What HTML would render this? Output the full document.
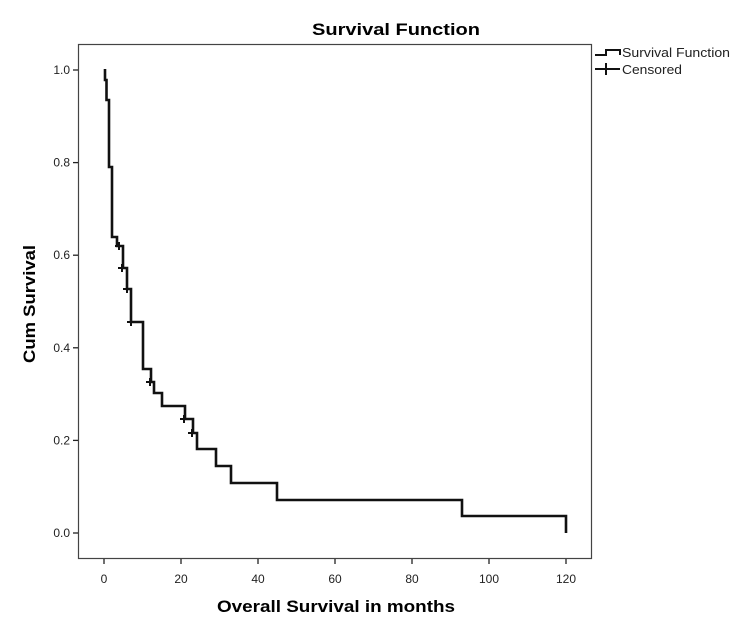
<!DOCTYPE html>
<html><head><meta charset="utf-8"><style>
html,body{margin:0;padding:0;background:#fff;}
svg{display:block;font-family:"Liberation Sans",sans-serif;}
</style></head><body>
<svg width="741" height="632" viewBox="0 0 741 632" xmlns="http://www.w3.org/2000/svg">
<rect x="0" y="0" width="741" height="632" fill="#fff"/>
<text x="396" y="35" font-size="17" font-weight="bold" text-anchor="middle" textLength="168" lengthAdjust="spacingAndGlyphs">Survival Function</text>
<rect x="78.5" y="44.5" width="513" height="514" fill="none" stroke="#444" stroke-width="1.2"/>
<g stroke="#222" stroke-width="1.3">
<line x1="73" y1="533" x2="78" y2="533"/><line x1="73" y1="440.4" x2="78" y2="440.4"/>
<line x1="73" y1="347.8" x2="78" y2="347.8"/><line x1="73" y1="255.2" x2="78" y2="255.2"/>
<line x1="73" y1="162.6" x2="78" y2="162.6"/><line x1="73" y1="70" x2="78" y2="70"/>
<line x1="104" y1="559" x2="104" y2="564"/><line x1="181" y1="559" x2="181" y2="564"/>
<line x1="258" y1="559" x2="258" y2="564"/><line x1="335" y1="559" x2="335" y2="564"/>
<line x1="412" y1="559" x2="412" y2="564"/><line x1="489" y1="559" x2="489" y2="564"/>
<line x1="566" y1="559" x2="566" y2="564"/>
</g>
<g font-size="12" fill="#222" text-anchor="end">
<text x="70" y="537">0.0</text><text x="70" y="444.4">0.2</text><text x="70" y="351.8">0.4</text>
<text x="70" y="259.2">0.6</text><text x="70" y="166.6">0.8</text><text x="70" y="74">1.0</text>
</g>
<g font-size="12" fill="#222" text-anchor="middle">
<text x="104" y="583">0</text><text x="181" y="583">20</text><text x="258" y="583">40</text>
<text x="335" y="583">60</text><text x="412" y="583">80</text><text x="489" y="583">100</text><text x="566" y="583">120</text>
</g>
<text x="336" y="612" font-size="17" font-weight="bold" text-anchor="middle" textLength="238" lengthAdjust="spacingAndGlyphs">Overall Survival in months</text>
<text transform="translate(35,304) rotate(-90)" font-size="17" font-weight="bold" text-anchor="middle" textLength="118" lengthAdjust="spacingAndGlyphs">Cum Survival</text>
<polyline fill="none" stroke="#111" stroke-width="2.6" stroke-linejoin="miter" points="105,69 105,80 106.5,80 106.5,100 109,100 109,167 112,167 112,237 117,237 117,246 123,246 123,268 127,268 127,289 131,289 131,322 143,322 143,369 151,369 151,382 154,382 154,393 162,393 162,406 185,406 185,419 193,419 193,433 197,433 197,449 216,449 216,466 231,466 231,483 277,483 277,500 462,500 462,516 566,516 566,533"/>
<g stroke="#111" stroke-width="2">
<line x1="115" y1="246" x2="123" y2="246"/><line x1="119" y1="242" x2="119" y2="250"/>
<line x1="118" y1="268" x2="126" y2="268"/><line x1="122" y1="264" x2="122" y2="272"/>
<line x1="123" y1="289" x2="131" y2="289"/><line x1="127" y1="285" x2="127" y2="293"/>
<line x1="127" y1="322" x2="135" y2="322"/><line x1="131" y1="318" x2="131" y2="326"/>
<line x1="146" y1="382" x2="154" y2="382"/><line x1="150" y1="378" x2="150" y2="386"/>
<line x1="180" y1="419" x2="188" y2="419"/><line x1="184" y1="415" x2="184" y2="423"/>
<line x1="188" y1="433" x2="196" y2="433"/><line x1="192" y1="429" x2="192" y2="437"/>
</g>
<polyline fill="none" stroke="#111" stroke-width="2" points="595,55 606,55 606,50 620,50 620,55"/>
<line x1="595" y1="69" x2="620" y2="69" stroke="#111" stroke-width="2"/>
<line x1="606" y1="63" x2="606" y2="75" stroke="#111" stroke-width="2"/>
<g font-size="13" fill="#222">
<text x="622" y="57" textLength="108" lengthAdjust="spacingAndGlyphs">Survival Function</text>
<text x="622" y="74" textLength="60" lengthAdjust="spacingAndGlyphs">Censored</text>
</g>
</svg>
</body></html>
